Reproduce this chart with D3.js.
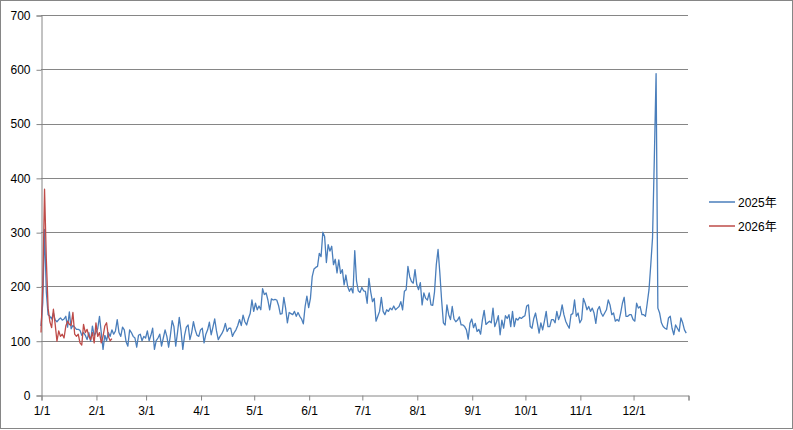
<!DOCTYPE html>
<html>
<head>
<meta charset="utf-8">
<script src="https://cdn.jsdelivr.net/npm/d3@7"></script>
<style>
  html, body { margin: 0; padding: 0; background: #fff; }
  svg { display: block; font-family: "Liberation Sans", Arial, sans-serif; }
</style>
</head>
<body>
<svg id="chart" width="793" height="430"></svg>
<script>
// ---- data (daily values) ----
const seriesNames = ["2025年", "2026年"];
const yTicks = [0, 100, 200, 300, 400, 500, 600, 700];
const monthLabels = ["1/1","2/1","3/1","4/1","5/1","6/1","7/1","8/1","9/1","10/1","11/1","12/1"];

const jan2025 = [127,170,305,190,148,145,140,151,138,135,139,142,138,140,145,125,153,122,128,125,121,121,119,110,115,110,102,115,99,127,110];
const feb2025 = [115,122,145,115,84,110,100,115,108,120,112,118,139,115,108,125,120,98,90,120,115,108,105,88,110,112,100,108];
const mar2025 = [105,118,100,110,123,84,100,105,112,90,105,120,108,88,110,137,126,90,115,143,118,84,110,125,129,102,115,135,120,110,108];
const apr2025 = [120,123,96,112,120,134,111,125,140,118,102,108,113,120,132,117,123,123,108,115,120,128,139,128,147,135,129,141,150,175];
const may2025 = [154,169,157,164,157,196,185,188,175,157,177,175,176,175,165,149,150,180,160,133,152,150,148,154,145,152,145,140,131,163,182];
const jun2025 = [161,178,218,232,235,237,261,255,300,292,244,277,265,274,240,250,225,249,224,231,203,221,200,191,197,188,266,210,192,189];
const jul2025 = [198,192,191,169,215,190,172,178,136,145,154,180,154,148,157,154,160,157,164,157,160,163,172,157,191,194,237,218,209,206,231];
const aug2025 = [203,194,207,166,188,178,175,188,166,165,190,240,268,225,175,133,129,166,148,139,163,140,135,138,144,129,129,126,120,103,132];
const sep2025 = [140,124,132,117,121,112,138,156,130,133,136,133,160,126,135,146,111,138,123,146,141,148,126,154,126,141,138,143,141,144];
const oct2025 = [146,164,166,126,123,141,151,133,114,133,120,136,154,126,126,139,139,133,154,139,148,166,148,136,129,123,148,150,175,145,151];
const nov2025 = [133,139,178,169,157,163,154,160,151,132,157,163,151,145,151,157,175,166,148,151,136,139,136,151,169,180,145,145,148,148];
const dec2025 = [139,136,169,160,163,148,148,145,169,194,240,290,435,592,160,151,133,126,123,121,142,145,123,111,129,123,117,142,133,120,114];

const janFeb2026 = [115,200,379,250,160,135,124,158,130,99,118,108,112,105,127,136,130,128,152,112,108,112,96,92,130,115,121,108,102,115,96,133,108,115,96,108,127,133,108,100,104];

const colors = ["#4A7EBB", "#BE4B48"];

// ---- build ----
const values2025 = [].concat(jan2025, feb2025, mar2025, apr2025, may2025, jun2025,
                             jul2025, aug2025, sep2025, oct2025, nov2025, dec2025);
const start = new Date(2025, 0, 1);
const end = new Date(2026, 0, 1);
const toPoints = vals => vals.map((v, i) => ({ date: d3.timeDay.offset(start, i), value: v }));
const series = [toPoints(values2025), toPoints(janFeb2026)];

const svg = d3.select("#chart");
const W = 793, H = 430;
const plot = { left: 41, right: 688, top: 15, bottom: 395 };

// outer border
svg.append("rect")
  .attr("x", 0.5).attr("y", 0.5).attr("width", W - 1).attr("height", H - 2)
  .attr("fill", "#fff").attr("stroke", "#868686").attr("stroke-width", 1);

const x = d3.scaleTime().domain([start, end]).range([plot.left, plot.right]);
const y = d3.scaleLinear().domain([0, 700]).range([plot.bottom, plot.top]);

// gridlines
svg.append("g")
  .selectAll("line")
  .data(yTicks.filter(t => t > 0))
  .join("line")
  .attr("x1", plot.left).attr("x2", plot.right)
  .attr("y1", d => Math.round(y(d)) + 0.5).attr("y2", d => Math.round(y(d)) + 0.5)
  .attr("stroke", "#868686").attr("stroke-width", 1);

// y axis
const yAxis = svg.append("g")
  .attr("transform", `translate(${plot.left + 0.5},0.5)`)
  .call(d3.axisLeft(y).tickValues(yTicks).tickSize(5).tickPadding(6).tickFormat(d3.format("d")));
yAxis.select(".domain").attr("stroke", "#868686");
yAxis.selectAll(".tick line").attr("stroke", "#868686");
yAxis.selectAll("text").attr("fill", "#000").style("font-size", "12px")
  .style("font-family", "'Liberation Sans', Arial, sans-serif");

// x axis
const monthStarts = d3.timeMonth.range(start, end);
const xTickVals = monthStarts.concat([end]);
const xAxis = svg.append("g")
  .attr("transform", `translate(0.5,${plot.bottom + 0.5})`)
  .call(d3.axisBottom(x).tickValues(xTickVals).tickSize(5).tickPadding(6)
    .tickFormat((d, i) => i < monthLabels.length ? monthLabels[i] : ""));
xAxis.select(".domain").attr("stroke", "#868686");
xAxis.selectAll(".tick line").attr("stroke", "#868686");
xAxis.selectAll("text").attr("fill", "#000").style("font-size", "12px")
  .style("font-family", "'Liberation Sans', Arial, sans-serif");

// lines
const line = d3.line().x(d => x(d.date)).y(d => y(d.value));
series.forEach((s, k) => {
  svg.append("path")
    .datum(s)
    .attr("fill", "none")
    .attr("stroke", colors[k])
    .attr("stroke-width", 1.3)
    .attr("stroke-linejoin", "round")
    .attr("d", line);
});

// legend
const legend = svg.append("g").attr("transform", "translate(709,202)");
seriesNames.forEach((name, k) => {
  const g = legend.append("g").attr("transform", `translate(0,${k * 24})`);
  g.append("line").attr("x1", 0).attr("x2", 26).attr("y1", 0).attr("y2", 0)
    .attr("stroke", colors[k]).attr("stroke-width", 1.5);
  g.append("text").attr("x", 29).attr("y", 4.5).text(name)
    .attr("fill", "#000").style("font-size", "12px")
    .style("font-family", "'Liberation Sans', 'Noto Sans CJK SC', Arial, sans-serif");
});
</script>
</body>
</html>
